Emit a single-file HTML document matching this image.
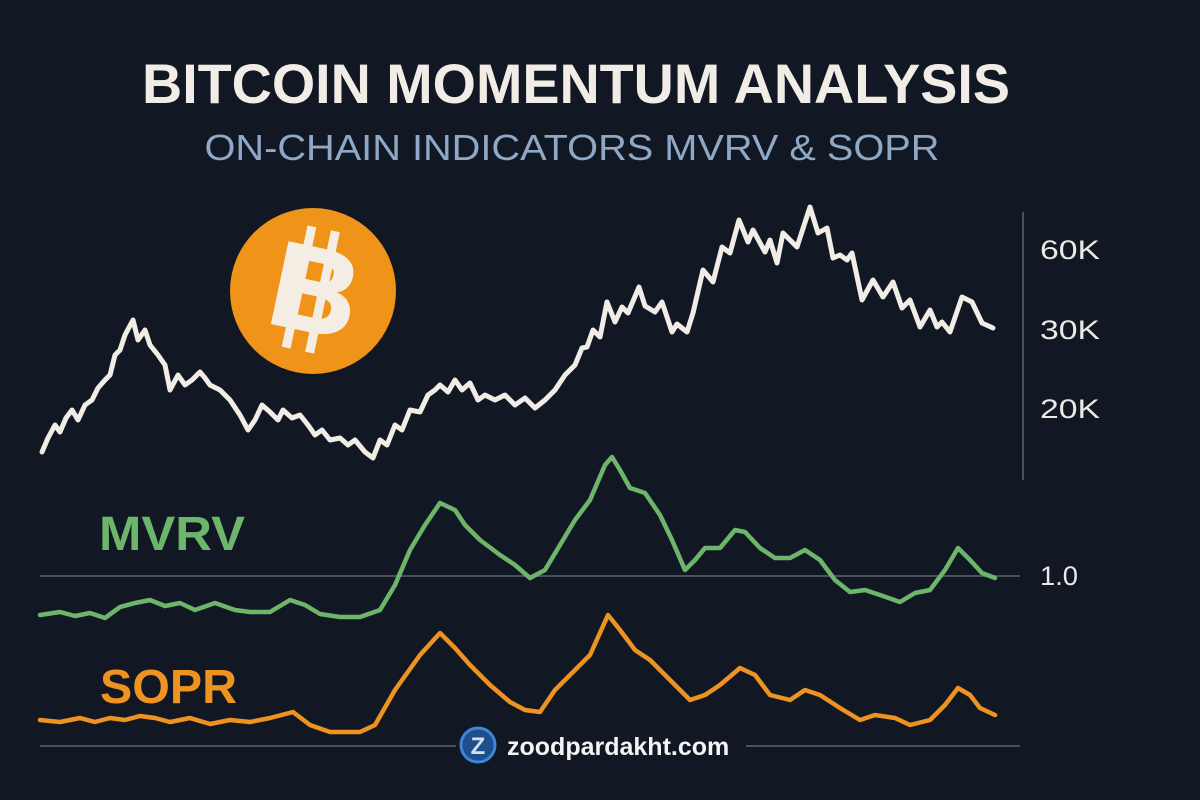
<!DOCTYPE html>
<html><head><meta charset="utf-8"><style>
html,body{margin:0;padding:0;background:#111823;}
svg{display:block;}
text{font-family:"Liberation Sans",sans-serif;}
</style></head><body>
<svg width="1200" height="800" viewBox="0 0 1200 800">
<rect width="1200" height="800" fill="#111823"/>
<text x="576" y="103" text-anchor="middle" font-size="56" font-weight="bold" fill="#f2ece6" textLength="868" lengthAdjust="spacingAndGlyphs">BITCOIN MOMENTUM ANALYSIS</text>
<text x="572" y="160" text-anchor="middle" font-size="36" fill="#8fa8c6" textLength="735" lengthAdjust="spacingAndGlyphs">ON-CHAIN INDICATORS MVRV &amp; SOPR</text>
<circle cx="313" cy="291" r="83" fill="#ef9418"/>
<g transform="rotate(12 313 291)" fill="#f4ede4">
<rect x="294" y="228" width="9" height="124"/>
<rect x="318" y="228" width="9" height="124"/>
<text x="315" y="331" text-anchor="middle" font-size="120" font-weight="bold" stroke="#f4ede4" stroke-width="2">B</text>
</g>
<line x1="1023" y1="212" x2="1023" y2="480" stroke="#4a515b" stroke-width="2"/>
<text x="1040" y="259" font-size="27" fill="#ece8e4" textLength="60" lengthAdjust="spacingAndGlyphs">60K</text>
<text x="1040" y="339" font-size="27" fill="#ece8e4" textLength="60" lengthAdjust="spacingAndGlyphs">30K</text>
<text x="1040" y="418" font-size="27" fill="#ece8e4" textLength="60" lengthAdjust="spacingAndGlyphs">20K</text>
<text x="1040" y="585" font-size="27" fill="#ece8e4" textLength="38" lengthAdjust="spacingAndGlyphs">1.0</text>
<line x1="40" y1="576" x2="1020" y2="576" stroke="#4a515b" stroke-width="2"/>
<line x1="40" y1="746" x2="1020" y2="746" stroke="#4a515b" stroke-width="2"/>
<text x="99" y="550" font-size="48" font-weight="bold" fill="#6db56a" textLength="146" lengthAdjust="spacingAndGlyphs">MVRV</text>
<text x="100" y="703" font-size="48" font-weight="bold" fill="#ee9222" textLength="137" lengthAdjust="spacingAndGlyphs">SOPR</text>
<polyline fill="none" stroke="#f2ece6" stroke-width="5" stroke-linejoin="round" stroke-linecap="round" points="42,452 48,438 55,425 60,432 66,418 72,410 78,420 85,405 92,400 98,388 105,380 110,375 115,355 120,350 125,335 133,320 138,340 145,330 150,345 158,355 165,365 170,390 178,375 185,385 192,380 200,372 205,378 210,385 220,390 230,400 240,415 248,430 255,420 262,405 270,412 278,420 283,410 292,418 300,415 308,425 315,435 322,430 330,440 340,438 348,445 355,440 365,452 373,458 380,440 387,445 395,425 402,430 410,410 420,412 428,395 435,390 440,385 448,392 455,380 462,390 470,383 478,400 485,395 495,400 505,395 515,405 525,398 535,408 545,400 555,390 565,375 575,365 582,348 587,347 593,330 600,337 607,302 615,322 622,307 628,313 639,287 645,306 655,312 662,302 672,332 677,324 687,332 693,313 703,270 713,282 722,247 730,253 739,220 748,242 753,230 765,252 770,240 777,263 783,233 797,247 810,207 818,233 827,228 833,258 840,255 847,260 852,253 862,300 873,280 883,297 893,282 902,308 910,300 920,327 930,310 937,327 942,322 950,332 962,297 972,302 982,323 993,328"/>
<polyline fill="none" stroke="#6db56a" stroke-width="4.5" stroke-linejoin="round" stroke-linecap="round" points="40,615 60,612 75,616 90,613 105,618 120,607 135,603 150,600 165,606 180,603 195,610 215,603 235,610 250,612 270,612 290,600 305,605 320,614 340,617 360,617 380,610 395,585 410,550 425,525 440,503 455,510 465,525 480,540 500,555 515,565 530,578 545,570 560,545 575,520 590,500 605,465 612,457 620,470 630,488 645,493 660,515 672,540 685,570 695,560 705,548 720,548 735,530 745,532 760,548 775,558 790,558 805,550 820,560 835,580 850,592 865,590 880,595 900,602 915,593 930,590 945,570 958,548 970,560 982,573 995,578"/>
<polyline fill="none" stroke="#ee9222" stroke-width="4.5" stroke-linejoin="round" stroke-linecap="round" points="40,720 60,722 80,718 95,722 110,718 125,720 140,716 155,718 170,722 190,718 210,724 230,720 250,722 270,718 293,712 310,725 330,732 360,732 375,725 395,690 420,655 440,633 455,648 470,665 490,685 510,702 525,710 540,712 555,690 570,675 590,655 608,615 620,630 635,650 650,660 665,675 680,690 690,700 705,695 720,685 740,668 755,675 770,695 790,700 805,690 820,695 840,708 860,720 875,715 895,718 910,725 930,720 945,705 958,688 970,695 980,708 995,715"/>
<rect x="456" y="726" width="290" height="38" fill="#111823"/>
<circle cx="478" cy="745" r="17" fill="#1d4f8f" stroke="#3f86d6" stroke-width="3"/>
<text x="478" y="754" text-anchor="middle" font-size="24" font-weight="bold" fill="#d8dde4">Z</text>
<text x="507" y="755" font-size="25" font-weight="bold" fill="#f4f4f4">zoodpardakht.com</text>
</svg>
</body></html>
